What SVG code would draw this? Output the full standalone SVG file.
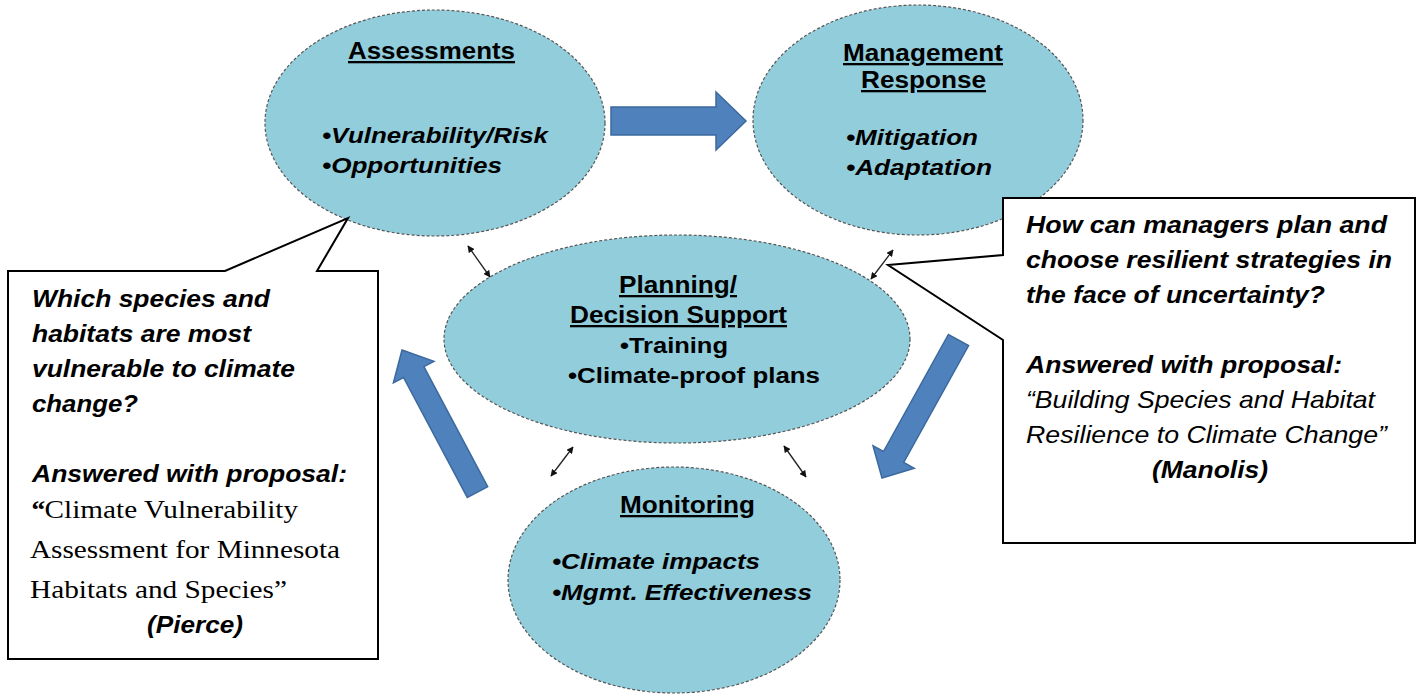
<svg xmlns="http://www.w3.org/2000/svg" width="1423" height="694" viewBox="0 0 1423 694">
<style>
.ell{fill:#92CDDC;stroke:#555;stroke-width:1.2;stroke-dasharray:3 2}
text{font-family:"Liberation Sans",Arial,sans-serif;fill:#000}
.t{font-size:23px;font-weight:bold;text-decoration:underline}
.bi{font-size:22px;font-weight:bold;font-style:italic}
.b{font-size:22px;font-weight:bold}
.cb{font-size:24px;font-weight:bold;font-style:italic}
.ci{font-size:24px;font-style:italic}
.tm{font-family:"Liberation Serif","Times New Roman",serif;font-size:25px}
.blk{fill:#4F81BD;stroke:#3C6A9E;stroke-width:1.5}
.call{fill:#fff;stroke:#000;stroke-width:2}
.dbl{stroke:#222;stroke-width:1.3;marker-start:url(#ah);marker-end:url(#ah)}
</style>
<defs>
<marker id="ah" viewBox="0 0 10 10" refX="9" refY="5" markerWidth="7" markerHeight="7" orient="auto-start-reverse" markerUnits="userSpaceOnUse">
<path d="M0,0 L10,5 L0,10 Z" fill="#111"/>
</marker>
</defs>
<rect width="1423" height="694" fill="#fff"/>

<g id="assessments">
<ellipse class="ell" cx="435" cy="123" rx="170" ry="113"/>
<text class="t" x="348" y="59" textLength="167" lengthAdjust="spacingAndGlyphs">Assessments</text>
<text class="bi" x="322" y="143" textLength="226" lengthAdjust="spacingAndGlyphs">•Vulnerability/Risk</text>
<text class="bi" x="322" y="173" textLength="180" lengthAdjust="spacingAndGlyphs">•Opportunities</text>
</g>

<g id="management">
<ellipse class="ell" cx="918" cy="120" rx="165" ry="115"/>
<text class="t" x="843" y="61" textLength="160" lengthAdjust="spacingAndGlyphs">Management</text>
<text class="t" x="861" y="88" textLength="125" lengthAdjust="spacingAndGlyphs">Response</text>
<text class="bi" x="846" y="145" textLength="132" lengthAdjust="spacingAndGlyphs">•Mitigation</text>
<text class="bi" x="846" y="175" textLength="146" lengthAdjust="spacingAndGlyphs">•Adaptation</text>
</g>

<g id="planning">
<ellipse class="ell" cx="677" cy="339" rx="233" ry="104"/>
<text class="t" x="619" y="293" textLength="118" lengthAdjust="spacingAndGlyphs">Planning/</text>
<text class="t" x="570" y="323" textLength="217" lengthAdjust="spacingAndGlyphs">Decision Support</text>
<text class="b" x="620" y="353" textLength="108" lengthAdjust="spacingAndGlyphs">•Training</text>
<text class="b" x="568" y="383" textLength="252" lengthAdjust="spacingAndGlyphs">•Climate-proof plans</text>
</g>

<g id="monitoring">
<ellipse class="ell" cx="674" cy="580" rx="166" ry="113"/>
<text class="t" x="620" y="513" textLength="135" lengthAdjust="spacingAndGlyphs">Monitoring</text>
<text class="bi" x="552" y="569" textLength="208" lengthAdjust="spacingAndGlyphs">•Climate impacts</text>
<text class="bi" x="552" y="600" textLength="260" lengthAdjust="spacingAndGlyphs">•Mgmt. Effectiveness</text>
</g>

<g id="connectors">
<polygon class="blk" points="611,107 716,107 716,92 746,121 716,150 716,135 611,135"/>
<polygon class="blk" points="882,478 873,445.7 883.5,451.5 948.4,334.5 968.6,345.5 903.7,462.5 914.2,468.3"/>
<polygon class="blk" points="402,350 434,361.3 423.9,366.7 487.7,486.6 467.3,497.4 403.5,377.5 393.4,382.9"/>
<line class="dbl" x1="468" y1="246" x2="490" y2="277"/>
<line class="dbl" x1="893" y1="250" x2="871" y2="279"/>
<line class="dbl" x1="573" y1="447" x2="551" y2="476"/>
<line class="dbl" x1="784" y1="446" x2="806" y2="477"/>
</g>

<g id="callout-left">
<path class="call" d="M8,271 L225,271 L348,218 L317,271 L378,271 L378,659 L8,659 Z"/>
<text class="cb" x="32" y="307" textLength="238" lengthAdjust="spacingAndGlyphs">Which species and</text>
<text class="cb" x="32" y="342" textLength="219" lengthAdjust="spacingAndGlyphs">habitats are most</text>
<text class="cb" x="32" y="377" textLength="263" lengthAdjust="spacingAndGlyphs">vulnerable to climate</text>
<text class="cb" x="32" y="412" textLength="106" lengthAdjust="spacingAndGlyphs">change?</text>
<text class="cb" x="32" y="482" textLength="315" lengthAdjust="spacingAndGlyphs">Answered with proposal:</text>
<text class="tm" x="30" y="518" textLength="268" lengthAdjust="spacingAndGlyphs"><tspan font-weight="bold" font-style="italic">“</tspan>Climate Vulnerability</text>
<text class="tm" x="30" y="558" textLength="310" lengthAdjust="spacingAndGlyphs">Assessment for Minnesota</text>
<text class="tm" x="30" y="598" textLength="257" lengthAdjust="spacingAndGlyphs">Habitats and Species”</text>
<text class="cb" x="147" y="633" textLength="96" lengthAdjust="spacingAndGlyphs">(Pierce)</text>
</g>

<g id="callout-right">
<path class="call" d="M1003,198 L1415,198 L1415,543 L1003,543 L1003,340 L888,265 L1003,255 Z"/>
<text class="cb" x="1026" y="233" textLength="361" lengthAdjust="spacingAndGlyphs">How can managers plan and</text>
<text class="cb" x="1026" y="268" textLength="366" lengthAdjust="spacingAndGlyphs">choose resilient strategies in</text>
<text class="cb" x="1026" y="303" textLength="299" lengthAdjust="spacingAndGlyphs">the face of uncertainty?</text>
<text class="cb" x="1026" y="373" textLength="316" lengthAdjust="spacingAndGlyphs">Answered with proposal:</text>
<text class="ci" x="1026" y="408" textLength="349" lengthAdjust="spacingAndGlyphs">“Building Species and Habitat</text>
<text class="ci" x="1026" y="443" textLength="361" lengthAdjust="spacingAndGlyphs">Resilience to Climate Change”</text>
<text class="cb" x="1152" y="478" textLength="116" lengthAdjust="spacingAndGlyphs">(Manolis)</text>
</g>
</svg>
